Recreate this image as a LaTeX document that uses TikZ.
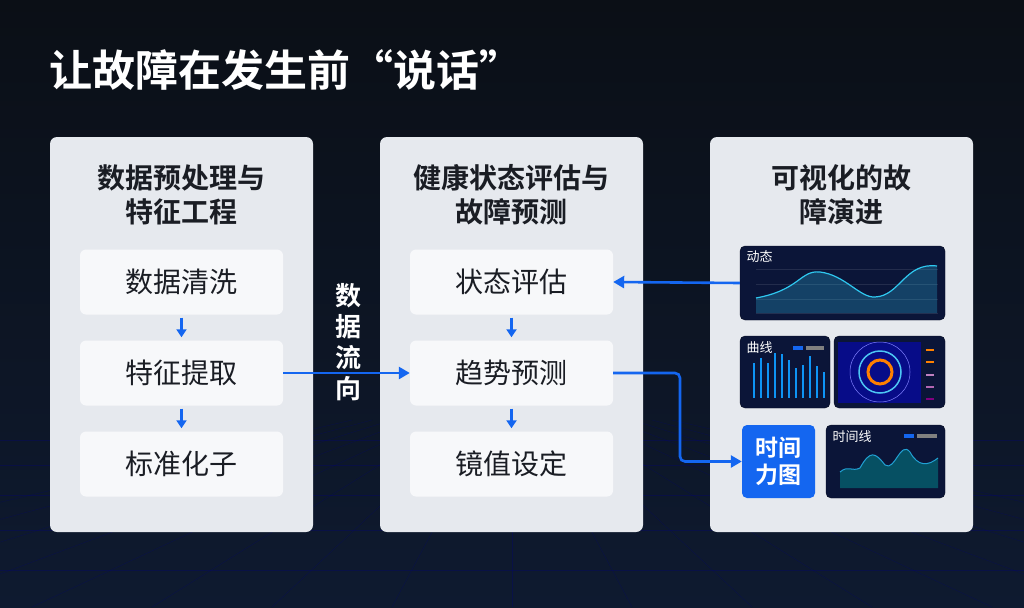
\documentclass[tikz,border=0pt]{standalone}
\usepackage{fontspec}
\setmainfont{Noto Sans CJK SC}
\newfontfamily\cjkb{Noto Sans CJK SC Bold}
\usetikzlibrary{arrows.meta}
\definecolor{bgtop}{HTML}{0B0F16}
\definecolor{bgbot}{HTML}{0E1A30}
\definecolor{panel}{HTML}{E6E9EE}
\definecolor{inner}{HTML}{F7F8FA}
\definecolor{txt}{HTML}{1A1D24}
\definecolor{flow}{HTML}{1466F0}
\definecolor{chart}{HTML}{0B1538}
\definecolor{cyanl}{HTML}{2FC8F0}
\tikzset{
  panelbox/.style={fill=panel,rounded corners=7pt},
  innerbox/.style={fill=inner,rounded corners=6pt,minimum width=203pt,minimum height=65pt,font=\fontsize{28}{30}\selectfont,text=txt},
  head/.style={font=\cjkb\fontsize{28}{34}\selectfont,text=txt,align=center},
  chartbox/.style={fill=chart,rounded corners=5pt,draw=chart!60!black},
  arr/.style={-{Triangle[length=11pt,width=12pt]},flow,line width=2.6pt},
  sarr/.style={-{Triangle[length=8pt,width=10pt]},flow,line width=2.2pt},
  ctitle/.style={text=white,font=\fontsize{13}{15}\selectfont,anchor=west}
}
\begin{document}
\begin{tikzpicture}[x=1pt,y=-1pt]
\useasboundingbox (0,0) rectangle (1024,607);
\shade[top color=bgtop,bottom color=bgbot] (0,0) rectangle (1024,607);
\foreach \i in {-8,...,8}{\draw[blue!50!black,opacity=0.3] (512+\i*20,420) -- (512+\i*120,607);}
\foreach \y in {440,465,495,530,570}{\draw[blue!50!black,opacity=0.3] (0,\y) -- (1024,\y);}
\node[anchor=west,text=white,font=\cjkb\fontsize{43}{46}\selectfont] (title) at (46,70) {让故障在发生前“说话”};
% panels
\fill[panelbox] (50,137) rectangle (313,532);
\fill[panelbox] (380,137) rectangle (643,532);
\fill[panelbox] (710,137) rectangle (973,532);
\node[head] (h1) at (181.5,195) {数据预处理与\\特征工程};
\node[head] (h2) at (511.5,195) {健康状态评估与\\故障预测};
\node[head] (h3) at (841.5,195) {可视化的故\\障演进};
\node[innerbox] (a1) at (181.5,282) {数据清洗};
\node[innerbox] (a2) at (181.5,373) {特征提取};
\node[innerbox] (a3) at (181.5,464) {标准化子};
\node[innerbox] (b1) at (511.5,282) {状态评估};
\node[innerbox] (b2) at (511.5,373) {趋势预测};
\node[innerbox] (b3) at (511.5,464) {镜值设定};
\draw[sarr] ([yshift=-3pt]a1.south) -- ([yshift=3pt]a2.north); \draw[sarr] ([yshift=-3pt]a2.south) -- ([yshift=3pt]a3.north);
\draw[sarr] ([yshift=-3pt]b1.south) -- ([yshift=3pt]b2.north); \draw[sarr] ([yshift=-3pt]b2.south) -- ([yshift=3pt]b3.north);
\draw[arr] (a2) -- (b2);
\node[text=white,font=\cjkb\fontsize{26}{31}\selectfont,align=center] (flowlbl) at (348,342) {数\\据\\流\\向};
% charts
\node[chartbox,minimum width=205pt,minimum height=74pt] (c1) at (842.5,283) {};
\node[ctitle] (c1t) at (743,257) {动态};
\foreach \y in {269,284,299,313}{\draw[white,opacity=0.1] (756,\y) -- (938,\y);}
\fill[cyanl,opacity=0.25] (756,298) .. controls (800,290) and (800,270) .. (820,272) .. controls (845,275) and (860,298) .. (875,297) .. controls (900,296) and (905,262) .. (937,266) -- (937,313) -- (756,313) -- cycle;
\draw[cyanl,line width=1.2pt] (756,298) .. controls (800,290) and (800,270) .. (820,272) .. controls (845,275) and (860,298) .. (875,297) .. controls (900,296) and (905,262) .. (937,266);
\node[chartbox,minimum width=90pt,minimum height=72pt] (c2) at (785,372) {};
\node[ctitle] (c2t) at (743,348) {曲线};
\fill[flow] (793,346) rectangle (803,350); \fill[gray] (806,346) rectangle (824,350);
\foreach \x/\h in {754/35,761/40,768/35,775/45,782/44,789/38,796/30,803/33,810/42,817/32,824/26}{\fill[flow!70!cyan] (\x-1.2,398) rectangle (\x+1.2,398-\h);}
\node[chartbox,minimum width=111pt,minimum height=72pt] (c3) at (889.5,372) {};
\fill[blue!40!chart] (838,342) rectangle (921,403);
\draw[cyan!70,line width=1.5pt] (880,372) circle (21pt);
\draw[blue!50,line width=0.5pt] (880,372) circle (30pt);
\draw[orange,line width=3pt] (880,372) circle (12pt);
\foreach \y/\c in {350/orange,362/orange,375/violet!50,387/violet!60,399/violet}{\fill[\c] (926,\y-1.2) rectangle (934,\y+1.2);}
\node[fill=flow,rounded corners=5pt,minimum width=73pt,minimum height=73pt,text=white,font=\cjkb\fontsize{23}{27}\selectfont,align=center] (tb) at (778.5,461.5) {时间\\力图};
\node[chartbox,minimum width=119pt,minimum height=73pt] (c4) at (885.5,461.5) {};
\node[ctitle] (c4t) at (829,437) {时间线};
\fill[flow] (904,434) rectangle (914,438); \fill[gray] (917,434) rectangle (937,438);
\fill[teal!80!cyan,opacity=0.45] (840,472) .. controls (848,465) and (852,472) .. (860,468) .. controls (870,450) and (875,452) .. (885,465) .. controls (895,472) and (900,440) .. (910,452) .. controls (918,467) and (928,466) .. (938,458) -- (938,488) -- (840,488) -- cycle;
\draw[cyan!70!teal,line width=1pt] (840,472) .. controls (848,465) and (852,472) .. (860,468) .. controls (870,450) and (875,452) .. (885,465) .. controls (895,472) and (900,440) .. (910,452) .. controls (918,467) and (928,466) .. (938,458);
% connectors
\draw[arr] (c1.west) -- (b1.east);
\draw[arr,rounded corners=5pt] (b2.east) -- (680,373) -- (680,461.5) -- (tb.west);
\end{tikzpicture}
\end{document}
